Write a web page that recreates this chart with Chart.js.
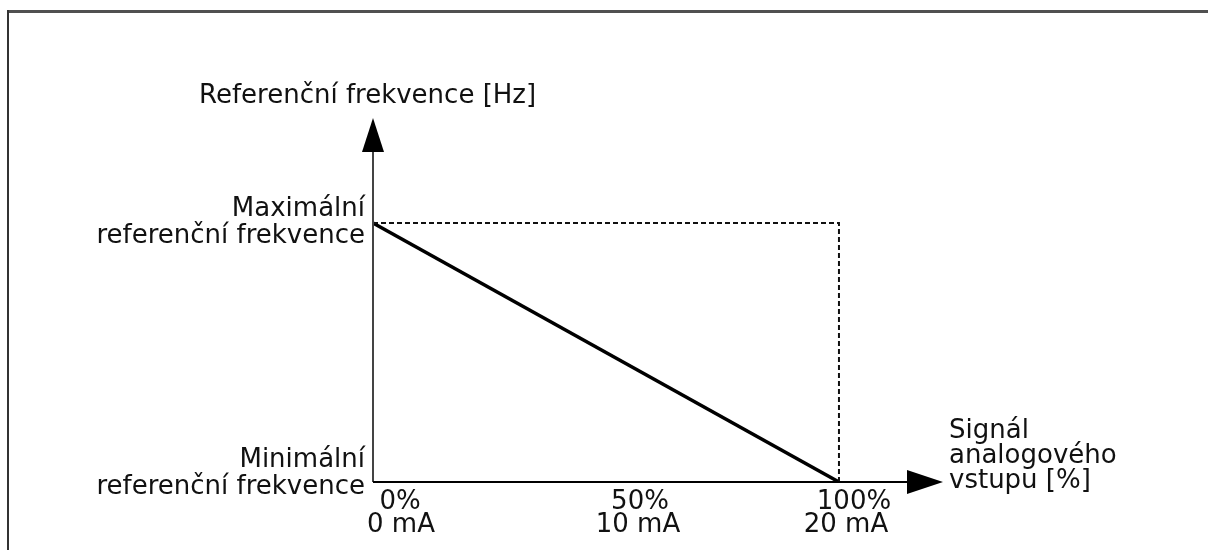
<!DOCTYPE html>
<html>
<head>
<meta charset="utf-8">
<script src="https://cdn.jsdelivr.net/npm/chart.js@4/dist/chart.umd.min.js"></script>
<style>
  html, body { margin: 0; padding: 0; background: #fff; }
  #wrap { width: 1208px; height: 550px; position: relative; }
</style>
</head>
<body>
<div id="wrap"><canvas id="c"></canvas></div>
<script>
// ---- data ----
const signalPercent = [0, 100];          // x: analog input signal [%]
const referenceFreq = [100, 0];          // y: reference frequency (100 = max, 0 = min)
const guideX = [0, 100, 100];            // dashed guide (max ref at 100 % signal)
const guideY = [100, 100, 0];
const xTickValues = [0, 50, 100];
const xTickPercent = ['0%', '50%', '100%'];
const xTickCurrent = ['0 mA', '10 mA', '20 mA'];
const yTickValues = [100, 0];
const yTickLabels = [['Maximální', 'referenční frekvence'], ['Minimální', 'referenční frekvence']];
const yAxisTitle = 'Referenční frekvence [Hz]';
const xAxisTitle = ['Signál', 'analogového', 'vstupu [%]'];

const FONT = '"DejaVu Sans", Verdana, sans-serif';

const decor = {
  id: 'decor',
  beforeDraw(chart) {
    const ctx = chart.ctx;
    ctx.save();
    ctx.fillStyle = '#fff';
    ctx.fillRect(0, 0, chart.width, chart.height);
    // frame
    ctx.strokeStyle = '#505050';
    ctx.lineWidth = 3;
    ctx.beginPath();
    ctx.moveTo(7, 11.5);
    ctx.lineTo(chart.width + 2, 11.5);
    ctx.stroke();
    ctx.strokeStyle = '#333';
    ctx.lineWidth = 2;
    ctx.beginPath();
    ctx.moveTo(8, chart.height + 2);
    ctx.lineTo(8, 10);
    ctx.stroke();
    ctx.restore();
  },
  afterDatasetsDraw(chart) {
    const ctx = chart.ctx;
    const xs = chart.scales.x, ys = chart.scales.y;
    const x0 = xs.getPixelForValue(0);
    const y0 = ys.getPixelForValue(0);
    const xEnd = chart.chartArea.right;
    const yEnd = chart.chartArea.top;
    ctx.save();
    // y axis
    ctx.strokeStyle = '#444';
    ctx.lineWidth = 2;
    ctx.beginPath();
    ctx.moveTo(x0, y0);
    ctx.lineTo(x0, yEnd);
    ctx.stroke();
    // x axis
    ctx.strokeStyle = '#000';
    ctx.beginPath();
    ctx.moveTo(x0, y0);
    ctx.lineTo(xEnd, y0);
    ctx.stroke();
    // arrows
    ctx.fillStyle = '#000';
    ctx.beginPath();
    ctx.moveTo(x0, yEnd - 34);
    ctx.lineTo(x0 - 11, yEnd);
    ctx.lineTo(x0 + 11, yEnd);
    ctx.closePath();
    ctx.fill();
    ctx.beginPath();
    ctx.moveTo(xEnd + 36, y0);
    ctx.lineTo(xEnd, y0 - 12);
    ctx.lineTo(xEnd, y0 + 12);
    ctx.closePath();
    ctx.fill();

    // texts
    ctx.fillStyle = '#111';
    ctx.font = '26px ' + FONT;
    ctx.textBaseline = 'alphabetic';
    // y title
    ctx.textAlign = 'left';
    ctx.fillText(yAxisTitle, 199, 103);
    // y tick labels
    ctx.textAlign = 'right';
    yTickValues.forEach((v, i) => {
      const py = ys.getPixelForValue(v);
      const lines = yTickLabels[i];
      const base = v > 0 ? py - 7 : py - 15;
      ctx.fillText(lines[0], x0 - 8, base);
      ctx.fillText(lines[1], x0 - 8, base + 27);
    });
    // x tick labels
    ctx.textAlign = 'center';
    const offs = [27, 34, 15];
    const offs2 = [28, 32, 7];
    xTickValues.forEach((v, i) => {
      const px = xs.getPixelForValue(v);
      ctx.fillText(xTickPercent[i], px + offs[i], y0 + 27);
      ctx.fillText(xTickCurrent[i], px + offs2[i], y0 + 50);
    });
    // x title
    ctx.textAlign = 'left';
    xAxisTitle.forEach((t, i) => {
      ctx.fillText(t, xEnd + 42, y0 - 44 + i * 25);
    });
    ctx.restore();
  }
};

new Chart(document.getElementById('c'), {
  type: 'scatter',
  data: {
    datasets: [
      {
        data: guideX.map((x, i) => ({ x, y: guideY[i] })),
        showLine: true,
        borderColor: '#111',
        borderWidth: 2,
        borderDash: [5, 3],
        pointRadius: 0,
        fill: false
      },
      {
        data: signalPercent.map((x, i) => ({ x, y: referenceFreq[i] })),
        showLine: true,
        borderColor: '#000',
        borderWidth: 3.5,
        pointRadius: 0,
        fill: false
      }
    ]
  },
  options: {
    responsive: true,
    maintainAspectRatio: false,
    animation: false,
    layout: { padding: { left: 373, right: 301, top: 152, bottom: 68 } },
    plugins: { legend: { display: false }, tooltip: { enabled: false } },
    scales: {
      x: { type: 'linear', min: 0, max: 114.6, display: false },
      y: { type: 'linear', min: 0, max: 127.4, display: false }
    }
  },
  plugins: [decor]
});
</script>
</body>
</html>
